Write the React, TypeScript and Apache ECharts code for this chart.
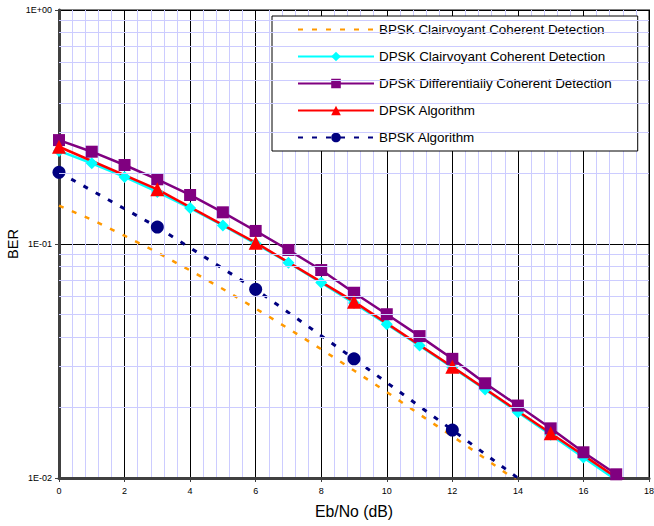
import React, { useEffect, useRef } from "react";
import * as echarts from "echarts";

const ebNoFull = [0, 1, 2, 3, 4, 5, 6, 7, 8, 9, 10, 11, 12, 13, 14, 15, 16, 17, 18];
const ebNoEvery3 = [0, 3, 6, 9, 12, 15, 18];
const ebNoOrange = [0, 1, 2, 3, 4, 5, 6, 7, 8, 9, 10, 11, 12, 13, 14, 15];
const ebNoBlue = [0, 3, 6, 9, 12, 15];

const bpskClairvoyant = [0.146, 0.127, 0.1085, 0.092, 0.0771, 0.0642, 0.053, 0.0435, 0.0355, 0.0288, 0.0233, 0.0187, 0.0151, 0.0121, 0.00966, 0.0077];
const dpskClairvoyant = [0.25, 0.2213, 0.1934, 0.1669, 0.1424, 0.1201, 0.1004, 0.0832, 0.0684, 0.0559, 0.04545, 0.0368, 0.0297, 0.0239, 0.0191, 0.0153, 0.01225, 0.0098, 0.0078];
const dpskDifferential = [0.278, 0.248, 0.2176, 0.189, 0.162, 0.1366, 0.1137, 0.0943, 0.0774, 0.0619, 0.0501, 0.0404, 0.0323, 0.0254, 0.0204, 0.0163, 0.01288, 0.01037, 0.0083];
const dpskAlgorithm = [0.2604, 0.1713, 0.1013, 0.0567, 0.0299, 0.01552, 0.0081];
const bpskAlgorithm = [0.2025, 0.1182, 0.064, 0.0323, 0.01603, 0.0079];

const seriesNames = [
  "BPSK Clairvoyant Coherent Detection",
  "DPSK Clairvoyant Coherent Detection",
  "DPSK Differentially Coherent Detection",
  "DPSK Algorithm",
  "BPSK Algorithm",
];

const yTickValues = [1, 0.1, 0.01];
const yTickLabels = ["1E+00", "1E-01", "1E-02"];
const yMinorGrid = [0.02, 0.03, 0.04, 0.05, 0.06, 0.07, 0.08, 0.09, 0.2, 0.3, 0.4, 0.5, 0.6, 0.7, 0.8, 0.9];

const FONT = "'Liberation Sans', Arial, sans-serif";

function pair(xs: number[], ys: number[]) {
  return ys.map((y, i) => [xs[i], y]);
}

export default function App() {
  const ref = useRef<HTMLDivElement>(null);
  useEffect(() => {
    document.body.style.margin = "0";
    const chart = echarts.init(ref.current!, null, { renderer: "svg" });
    chart.setOption({
      animation: false,
      backgroundColor: "#ffffff",
      textStyle: { fontFamily: FONT },
      grid: {
        left: 59,
        top: 10,
        right: 5,
        bottom: 48,
        containLabel: false,
        outerBoundsMode: "none",
        show: true,
        borderColor: "#808080",
        borderWidth: 2,
        backgroundColor: "#ffffff",
      },
      legend: {
        data: seriesNames.map((n, i) =>
          i === 0 ? { name: n, itemStyle: { color: "rgba(0,0,0,0)", borderWidth: 0, opacity: 0 } } : { name: n }
        ),
        orient: "vertical",
        left: 272,
        top: 16,
        padding: [7, 26, 7, 25],
        itemWidth: 76,
        itemHeight: 12,
        itemGap: 14,
        backgroundColor: "#ffffff",
        borderColor: "#000000",
        borderWidth: 1,
        borderRadius: 0,
        textStyle: { fontSize: 13.4, color: "#000", fontFamily: FONT },
      },
      xAxis: {
        type: "value",
        min: 0,
        max: 18,
        interval: 2,
        z: 2,
        name: "Eb/No (dB)",
        nameLocation: "middle",
        nameGap: 25,
        nameMoveOverlap: false,
        nameTextStyle: { fontSize: 15.8, color: "#000", fontFamily: FONT },
        axisLine: { show: true, onZero: false, lineStyle: { color: "#404040", width: 3 } },
        axisTick: { show: true, length: 4, lineStyle: { color: "#404040", width: 1 } },
        axisLabel: { fontSize: 9, color: "#000", margin: 8, fontFamily: FONT },
        splitLine: { show: true, lineStyle: { color: "#000000", width: 1 } },
        minorTick: { show: false, splitNumber: 5 },
        minorSplitLine: { show: true, lineStyle: { color: "#CCCCFF", width: 1 } },
      },
      yAxis: {
        type: "log",
        logBase: 10,
        min: 0.01,
        max: 1,
        z: 2,
        name: "BER",
        nameLocation: "middle",
        nameGap: 39,
        nameMoveOverlap: false,
        nameRotate: 90,
        nameTextStyle: { fontSize: 14.5, color: "#000", fontFamily: FONT },
        axisLine: { show: true, lineStyle: { color: "#404040", width: 3 } },
        axisTick: { show: true, length: 4, lineStyle: { color: "#404040", width: 1 } },
        axisLabel: {
          fontSize: 9,
          color: "#000",
          margin: 7,
          fontFamily: FONT,
          formatter: (v: number) => {
            const idx = yTickValues.findIndex((t) => Math.abs(Math.log10(t) - Math.log10(v)) < 1e-6);
            return idx >= 0 ? yTickLabels[idx] : "";
          },
        },
        splitLine: { show: true, lineStyle: { color: "#000000", width: 1 } },
      },
      series: [
        {
          name: "_minorgrid",
          type: "line",
          data: [],
          z: 1,
          silent: true,
          markLine: {
            silent: true,
            symbol: ["none", "none"],
            label: { show: false },
            lineStyle: { color: "#CCCCFF", width: 1, type: "solid" },
            emphasis: { disabled: true },
            data: yMinorGrid.map((v) => ({ yAxis: v })),
          },
        },
        {
          name: seriesNames[0],
          type: "line",
          z: 3,
          data: pair(ebNoOrange, bpskClairvoyant),
          symbol: "none",
          color: "#FF9900",
          lineStyle: { color: "#FF9900", width: 2.5, type: [5, 9] },
        },
        {
          name: seriesNames[1],
          type: "line",
          z: 3,
          data: pair(ebNoFull, dpskClairvoyant),
          symbol: "diamond",
          symbolSize: 12,
          color: "#00FFFF",
          itemStyle: { color: "#00FFFF" },
          lineStyle: { color: "#00FFFF", width: 2.5 },
        },
        {
          name: seriesNames[2],
          type: "line",
          z: 3,
          data: pair(ebNoFull, dpskDifferential),
          symbol: "rect",
          symbolSize: 12,
          color: "#800080",
          itemStyle: { color: "#800080" },
          lineStyle: { color: "#800080", width: 2.5 },
        },
        {
          name: seriesNames[3],
          type: "line",
          z: 3,
          data: pair(ebNoEvery3, dpskAlgorithm),
          symbol: "triangle",
          symbolSize: 14,
          color: "#FF0000",
          itemStyle: { color: "#FF0000" },
          lineStyle: { color: "#FF0000", width: 2.5 },
        },
        {
          name: seriesNames[4],
          type: "line",
          z: 3,
          data: pair(ebNoBlue, bpskAlgorithm),
          symbol: "circle",
          symbolSize: 13,
          color: "#000080",
          itemStyle: { color: "#000080" },
          lineStyle: { color: "#000080", width: 3, type: [5, 9] },
        },
      ],
    });
    return () => chart.dispose();
  }, []);
  return (
    <div
      ref={ref}
      style={{ width: 654, height: 526, position: "absolute", left: 0, top: 0 }}
    />
  );
}
